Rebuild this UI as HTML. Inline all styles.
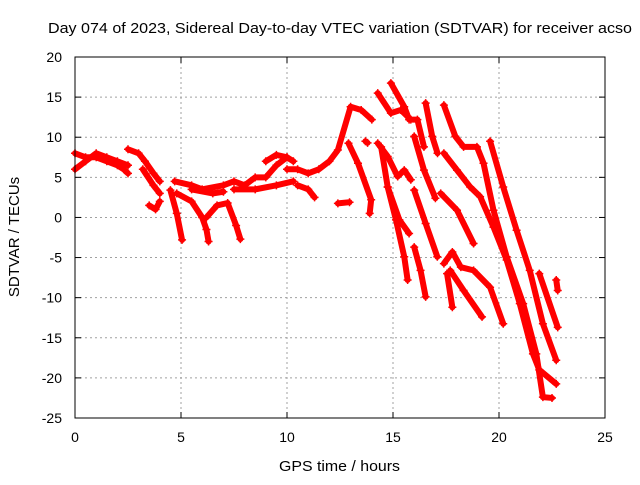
<!DOCTYPE html>
<html><head><meta charset="utf-8"><style>
body{margin:0;background:#fff}
svg{font-family:"Liberation Sans",sans-serif}
</style></head><body>
<svg id="chart" width="640" height="480">
<text x="48" y="33" font-size="15" textLength="584" lengthAdjust="spacingAndGlyphs">Day 074 of 2023, Sidereal Day-to-day VTEC variation (SDTVAR) for receiver acso</text>
<text x="279" y="471" font-size="15" textLength="121" lengthAdjust="spacingAndGlyphs">GPS time / hours</text>
<text transform="translate(19,237) rotate(-90)" font-size="15" text-anchor="middle">SDTVAR / TECUs</text>
<g id="grid"></g><g id="ticks"></g><g id="marks"></g>
<rect x="75" y="57" width="530" height="361" fill="none" stroke="#000" stroke-width="1"/>
</svg>
<script>
const xTicks=[0,5,10,15,20,25];
const yTicks=[20,15,10,5,0,-5,-10,-15,-20,-25];
const tracks=[
[[0,8],[0.5,7.5],[1,7.5],[1.5,7],[2,6.5],[2.3,6],[2.5,5.5]],
[[0,6],[0.5,7],[1,8],[1.5,7.5],[2,7],[2.5,6.5]],
[[2.5,8.5],[3,8],[3.3,7],[3.7,5.5],[4,4.5]],
[[3.2,6],[3.7,4],[4,3]],
[[3.5,1.5],[3.8,1],[4,2]],
[[4.5,3.4],[4.8,0.5],[5.05,-2.8]],
[[4.7,4.5],[5.5,4],[6,3.5],[7,4],[7.5,4.5],[8,4],[8.5,5],[9,5],[9.5,6.5],[10,7.5],[10.3,7]],
[[4.8,3],[5.5,2],[6,0],[6.2,-1.5],[6.3,-3]],
[[6.2,0],[6.7,1.5],[7.2,1.8],[7.6,-1],[7.8,-2.7]],
[[5.5,3.5],[6.5,3],[7,3.2]],
[[7.5,3.5],[8.5,3.5],[9.5,4],[10.3,4.5]],
[[9,7],[9.5,7.8],[10,7.5]],
[[10.5,4],[11,3.5],[11.3,2.5]],
[[10,6],[10.5,6],[11,5.5],[11.5,6],[12,7],[12.4,8.4],[13,13.8],[13.5,13.4],[14,12.2]],
[[12.9,9.25],[13.35,6.75],[13.97,2.2],[13.9,0.5]],
[[12.4,1.75],[12.95,1.9]],
[[13.7,9.5],[13.8,9.3]],
[[14.28,15.5],[14.9,13],[15.37,13.4],[15.84,12.2],[16.15,12.2],[16.46,8.8]],
[[14.9,16.75],[15.53,13.8],[15.76,12.2]],
[[16.54,14.25],[16.85,10.1],[17.1,8]],
[[17.4,14],[17.94,10.1],[18.33,8.8],[18.96,8.8],[19.27,6.75],[19.74,0.9],[20.36,-4.9],[21.14,-10.75],[21.76,-17],[22.07,-22.4],[22.5,-22.5]],
[[17.4,8],[18.02,5.9],[18.64,3.8],[19.11,2.6],[19.74,-1.2],[20.36,-5.3],[20.98,-10.75],[21.6,-17],[21.9,-19],[22.7,-20.75]],
[[19.58,9.5],[20.2,3.8],[20.83,-1.6],[21.45,-6.6],[22.07,-13.25],[22.7,-17.8]],
[[14.28,9.25],[14.75,7.6],[15.22,5.1],[15.53,5.9],[15.84,4.7]],
[[14.44,8.8],[14.75,3.8],[15.14,-0.3],[15.53,-4.9],[15.69,-7.8]],
[[14.75,3.8],[15.3,-0.3],[15.76,-2]],
[[16,10.1],[16.46,5.9],[17,2.4]],
[[16,3.4],[16.54,-0.75],[17.09,-4.9]],
[[16,-3.7],[16.3,-6.6],[16.54,-9.9]],
[[17.25,3],[18.02,0.9],[18.8,-3.25]],
[[17.4,-5.75],[17.8,-4.3],[18.2,-6.2],[18.8,-6.6],[19.58,-8.7],[20.2,-13.25]],
[[17.55,-7],[17.8,-11.2]],
[[17.7,-6.6],[18.33,-9.1],[19.2,-12.4]],
[[21.9,-7],[22.77,-13.7]],
[[22.7,-7.8],[22.77,-9.1]]
];
const NS='http://www.w3.org/2000/svg';
const X0=75,X1=605,Y0=418,Y1=57;
function sx(v){return X0+(v-0)/25*(X1-X0);}
function sy(v){return Y0-(v+25)/45*(Y0-Y1);}
const grid=document.getElementById('grid'),ticks=document.getElementById('ticks'),marks=document.getElementById('marks');
function mk(tag,a,p){const e=document.createElementNS(NS,tag);for(const k in a)e.setAttribute(k,a[k]);p.appendChild(e);return e;}
xTicks.forEach(t=>{
 const x=sx(t);
 if(t>0&&t<25){const g=mk('line',{x1:x,y1:Y1,x2:x,y2:Y0,stroke:'#a0a0a0','stroke-dasharray':'2,3'},grid);
 
 }
 const tx=mk('text',{x:x,y:Y0+24,'font-size':14,'text-anchor':'middle'},ticks);tx.textContent=t;
 
 
 mk('line',{x1:x,y1:Y0,x2:x,y2:Y0-6,stroke:'#000'},ticks);
 mk('line',{x1:x,y1:Y1,x2:x,y2:Y1+6,stroke:'#000'},ticks);
});
yTicks.forEach(t=>{
 const y=sy(t);
 if(t>-25&&t<20){const g=mk('line',{x1:X0,y1:y,x2:X1,y2:y,stroke:'#a0a0a0','stroke-dasharray':'2,3'},grid);
 
 }
 const tx=mk('text',{x:X0-13,y:y+5,'font-size':14,'text-anchor':'end'},ticks);tx.textContent=t;
 
 
 mk('line',{x1:X0,y1:y,x2:X0+6,y2:y,stroke:'#000'},ticks);
 mk('line',{x1:X1,y1:y,x2:X1-6,y2:y,stroke:'#000'},ticks);
});
tracks.forEach((tr,i)=>{
 const pts=tr.map(p=>sx(p[0])+','+sy(p[1])).join(' ');
 const pl=mk('polyline',{points:pts,fill:'none',stroke:'#ff0000','stroke-width':6,'stroke-linejoin':'round','stroke-linecap':'round'},marks);
 
 
 tr.forEach(p=>{
  const x=sx(p[0]),y=sy(p[1]);
  const m=mk('path',{d:`M${x-4},${y}H${x+4}M${x},${y-4}V${y+4}`,stroke:'#ff0000','stroke-width':1.5},marks);
  
  
 });
});
</script>
</body></html>
